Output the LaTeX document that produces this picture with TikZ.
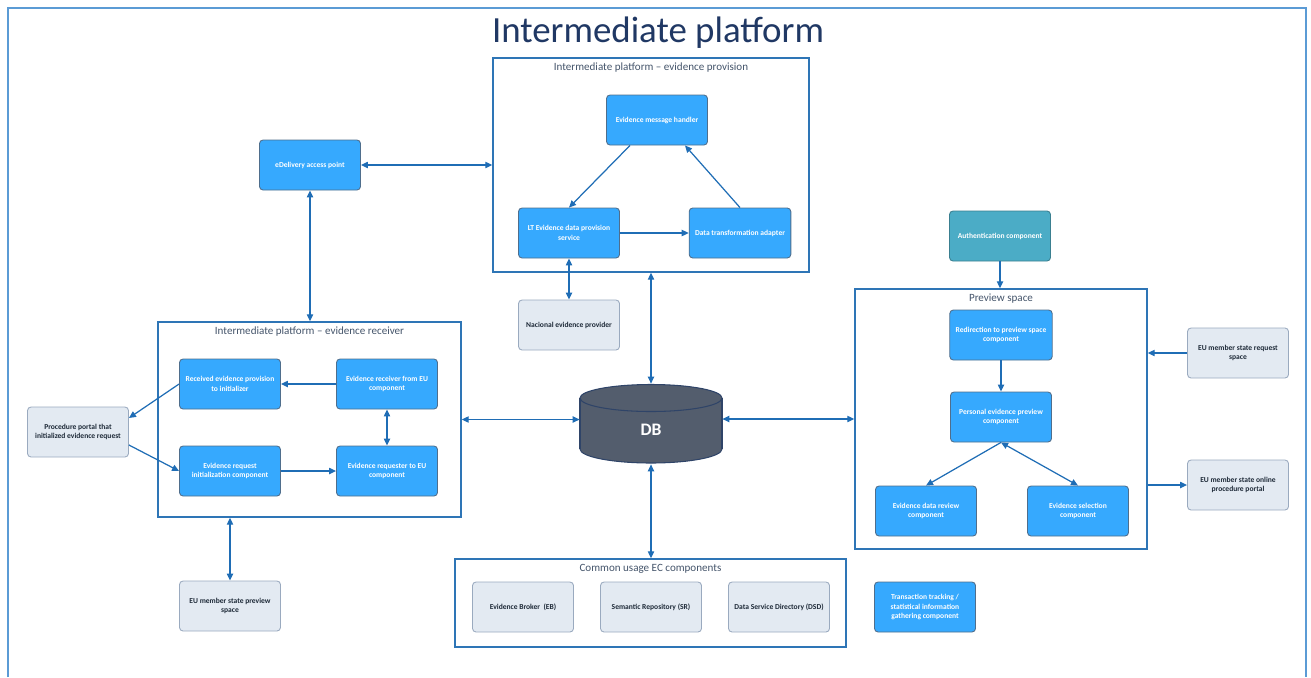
\documentclass[tikz,border=0pt]{standalone}
\usepackage{fontspec}
\setmainfont{Carlito}
\usetikzlibrary{arrows.meta,positioning,fit,calc}
\definecolor{outerblue}{HTML}{5B9BD5}
\definecolor{frameblue}{HTML}{2E75B6}
\definecolor{linkblue}{HTML}{1F6DB5}
\definecolor{navy}{HTML}{203864}
\definecolor{slate}{HTML}{44546A}
\definecolor{compblue}{HTML}{36A9FE}
\definecolor{compedge}{HTML}{4F6E8C}
\definecolor{extfill}{HTML}{E3EAF2}
\definecolor{extedge}{HTML}{9AAABF}
\definecolor{exttext}{HTML}{1E2A38}
\definecolor{authteal}{HTML}{4BACC6}
\definecolor{authedge}{HTML}{3A7F90}
\definecolor{dbfill}{HTML}{535D6D}
\definecolor{dbedge}{HTML}{2F4468}
\newcommand{\cmpfont}{\bfseries\fontsize{4.3}{5.3}\selectfont}
\newcommand{\ttlfont}{\fontsize{6.3}{7.5}\selectfont}
\tikzset{
  link/.style={-{Triangle[length=4pt,width=3.6pt]},draw=linkblue,line width=.7pt},
  twoway/.style={link,{Triangle[length=4pt,width=3.6pt]}-{Triangle[length=4pt,width=3.6pt]}},
  comp/.style={rounded corners=2pt,draw=compedge,fill=compblue,text=white,
    line width=.5pt,align=center,font=\cmpfont,minimum width=2.02cm,minimum height=1cm},
  extbox/.style={comp,draw=extedge,fill=extfill,text=exttext},
  authbox/.style={comp,draw=authedge,fill=authteal},
  frame/.style={draw=frameblue,line width=.8pt,inner sep=0pt},
  frametitle/.style={font=\ttlfont,text=slate,anchor=north,inner sep=3pt},
  maintitle/.style={font=\fontsize{21}{24}\selectfont,text=navy},
  outer/.style={draw=outerblue,line width=1.1pt},
}
\begin{document}
\begin{tikzpicture}[x=.02cm,y=-.02cm]
\useasboundingbox (0,0) rectangle (1311,677);
\draw[outer] (8,677) -- (8,8) -- (1306,8) -- (1306,677);
\node[maintitle] (title) at (658,33) {Intermediate platform};
% evidence provision
\node[frame,fit={(493,58) (809,272)}] (prov) {};
\node[frametitle] at (prov.north) {Intermediate platform – evidence provision};
\node[comp] (handler) at (657,120) {Evidence message handler};
\node[comp] (lt) at (569,233) {LT Evidence data provision\\service};
\node[comp] (trans) at (740,233) {Data transformation adapter};
\node[comp] (edel) at (310,165) {eDelivery access point};
\node[extbox] (natl) at (569,325) {Nacional evidence provider};
% evidence receiver
\node[frame,fit={(158,322) (461,517)}] (recv) {};
\node[frametitle] at (recv.north) {Intermediate platform – evidence receiver};
\node[comp] (recvd) at (230,384) {Received evidence provision\\to initializer};
\node[comp] (rcveu) at (387,384) {Evidence receiver from EU\\component};
\node[comp] (reqinit) at (230,471) {Evidence request\\initialization component};
\node[comp] (reqeu) at (387,471) {Evidence requester to EU\\component};
\node[extbox] (portal) at (78,432) {Procedure portal that\\initialized evidence request};
\node[extbox] (eupv) at (230,606) {EU member state preview\\space};
% database
\node[inner sep=0pt,minimum width=2.84cm,minimum height=1.6cm] (db) at (651,424) {};
\filldraw[fill=dbfill,draw=dbedge,line width=.6pt] (651,449) ellipse [x radius=71,y radius=14];
\fill[dbfill] (580,398) rectangle (722,449);
\draw[dbedge,line width=.6pt] (580,398) -- (580,449) (722,398) -- (722,449);
\filldraw[fill=dbfill,draw=dbedge,line width=.6pt] (651,398) ellipse [x radius=71,y radius=13.5];
\node[text=white,font=\bfseries\fontsize{10}{12}\selectfont] (dblabel) at (651,430) {DB};
% preview space
\node[authbox] (auth) at (1000,236) {Authentication component};
\node[frame,fit={(855,289) (1147,549)}] (prev) {};
\node[frametitle] at (prev.north) {Preview space};
\node[comp] (redir) at (1001,335) {Redirection to preview space\\component};
\node[comp] (pers) at (1001,417) {Personal evidence preview\\component};
\node[comp] (review) at (926,511) {Evidence data review\\component};
\node[comp] (select) at (1078,511) {Evidence selection\\component};
\node[extbox] (reqsp) at (1238,353) {EU member state request\\space};
\node[extbox] (online) at (1238,485) {EU member state online\\procedure portal};
% common usage
\node[frame,fit={(455,559) (846,647)}] (common) {};
\node[frametitle] at (common.north) {Common usage EC components};
\node[extbox] (eb) at (523,607) {Evidence Broker~ (EB)};
\node[extbox] (sr) at (651,607) {Semantic Repository (SR)};
\node[extbox] (dsd) at (779,607) {Data Service Directory (DSD)};
\node[comp] (track) at (925,607) {Transaction tracking /\\statistical information\\gathering component};
% connectors
\draw[link] ([xshift=-.54cm]handler.south) -- (lt.north);
\draw[link] (trans.north) -- ([xshift=.56cm]handler.south);
\foreach \a/\b in {lt/trans,rcveu/recvd,reqinit/reqeu,redir/pers}\draw[link] (\a) -- (\b);
\foreach \a/\b in {natl/lt,rcveu/reqeu}\draw[twoway] (\a) -- (\b);
\draw[link] (pers.south) -- (review.north);
\draw[twoway] (pers.south) -- (select.north);
\draw[twoway] (edel.east) -- (edel -| prov.west);
\draw[twoway] (edel.south) -- (edel |- recv.north);
\draw[twoway] (db.north) -- (db |- prov.south);
\draw[twoway] (recv.east) -- (recv.east -| db.west);
\draw[twoway] (db.east |- prev.west) -- (prev.west);
\draw[twoway] (db.south) -- (db |- common.north);
\draw[twoway] (eupv.north) -- (eupv |- recv.south);
\draw[link] (recvd.west) -- ([yshift=.28cm]portal.east);
\draw[link] ([yshift=-.26cm]portal.east) -- (reqinit.west);
\draw[link] (auth.south) -- (auth |- prev.north);
\draw[link] (reqsp.west) -- (reqsp -| prev.east);
\draw[link] (online -| prev.east) -- (online.west);
\end{tikzpicture}
\end{document}
